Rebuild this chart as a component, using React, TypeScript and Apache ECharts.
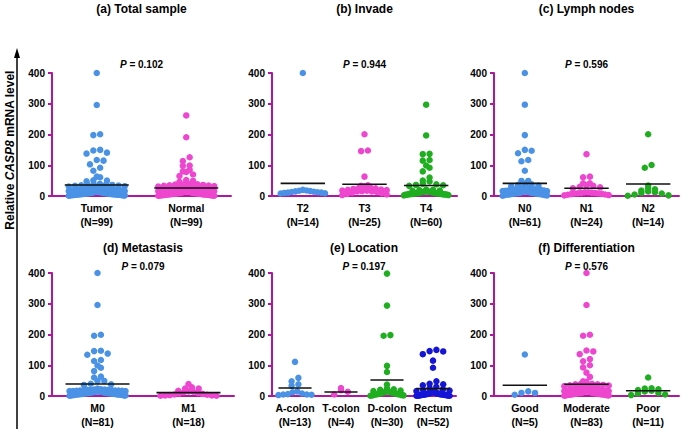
import React, { useEffect, useRef } from 'react';
import * as echarts from 'echarts';

const FONT = "'Liberation Sans', Arial, Helvetica, sans-serif";
const AXIS_COLOR = '#b0179f';
const BLUE = '#4a92e6';
const PINK = '#ee46cf';
const GREEN = '#1fae1f';
const NAVY = '#1515d6';

// ---------- (a) Total sample ----------
const totalCats = ['Tumor', 'Normal'];
const totalNs = [99, 99];
const totalMeans = [36, 26];
const tumorVals = [
  400, 296, 201, 198, 150, 148, 141, 138, 117, 115, 103, 92, 82, 63, 61, 51, 50, 48,
  2, 3, 4, 5, 6, 7, 8, 9, 10, 11, 2, 3, 4, 5, 6, 7, 8, 9, 10, 12,
  1, 2, 3, 4, 5, 6, 7, 8, 9, 13, 3, 4, 5, 6, 8, 10, 12, 14, 16, 18,
  4, 6, 8, 10, 12, 14, 16, 18, 20, 22, 15, 17, 19, 21, 23, 25, 27, 29, 31, 33,
  20, 24, 28, 32, 36, 38, 40, 35, 30, 26, 37, 39, 34, 22, 18, 15, 11, 9, 7, 5, 3,
];
const normalVals = [
  262, 191, 126, 114, 99, 98, 85, 80, 78, 70, 65, 52, 49, 46, 45, 42,
  1, 2, 3, 4, 5, 6, 7, 8, 9, 10, 2, 3, 4, 5, 6, 7, 8, 9, 11, 12,
  1, 2, 3, 4, 5, 6, 7, 8, 10, 13, 3, 5, 7, 9, 11, 13, 15, 17, 19, 21,
  4, 6, 8, 10, 12, 14, 16, 18, 20, 22, 14, 16, 18, 20, 22, 24, 26, 28, 30, 32,
  25, 27, 29, 31, 33, 35, 37, 36, 34, 23, 19, 17, 15, 13, 11, 9, 7, 5, 3, 2,
  38, 40, 30,
];

// ---------- (b) Invade ----------
const invadeCats = ['T2', 'T3', 'T4'];
const invadeNs = [14, 25, 60];
const invadeMeans = [41, 38, 34];
const t2Vals = [400, 15, 12, 10, 8, 18, 20, 16, 14, 9, 11, 17, 13, 11];
const t3Vals = [201, 148, 146, 63, 3, 5, 7, 9, 11, 13, 15, 17, 19, 21, 23, 25, 27, 29, 31, 33, 35, 20, 18, 16, 15];
const t4Vals = [
  297, 197, 137, 136, 117, 115, 99, 92, 80, 60, 50, 47,
  12, 13, 14, 4, 5, 6, 7, 8, 9, 10, 2, 3, 4, 5, 6, 7, 8, 9, 10, 11,
  12, 13, 14, 15, 16, 17, 18, 19, 20, 21, 5, 6, 7, 8, 9, 10, 11, 12, 13, 14,
  35, 38, 40, 33, 36, 4, 6, 8,
];

// ---------- (c) Lymph nodes ----------
const lymphCats = ['N0', 'N1', 'N2'];
const lymphNs = [61, 24, 14];
const lymphMeans = [41, 25, 39];
const n0Vals = [
  400, 297, 198, 150, 147, 139, 117, 113, 82, 49, 49,
  1, 2, 3, 4, 5, 6, 7, 8, 9, 10, 23, 5, 7, 9, 11, 13, 15, 17, 19, 21,
  12, 14, 16, 18, 20, 22, 24, 26, 28, 30, 4, 6, 8, 10, 12, 14, 16, 18, 20, 22,
  32, 34, 36, 38, 40, 5, 3, 7, 9, 11,
];
const n1Vals = [136, 63, 61, 41, 41, 35, 33, 30, 28, 25, 2, 3, 4, 5, 6, 7, 8, 9, 10, 11, 12, 8, 10, 12];
const n2Vals = [201, 101, 92, 34, 25, 22, 18, 15, 12, 10, 8, 5, 2, 1];

// ---------- (d) Metastasis ----------
const metaCats = ['M0', 'M1'];
const metaNs = [81, 18];
const metaMeans = [39, 11];
const m0Vals = [
  400, 296, 199, 196, 147, 146, 138, 134, 117, 114, 99, 92, 81, 63, 60, 49, 49,
  1, 2, 3, 4, 5, 6, 7, 8, 9, 10, 2, 3, 4, 5, 6, 7, 8, 9, 10, 11,
  12, 13, 14, 15, 16, 17, 18, 19, 20, 21, 3, 5, 7, 9, 11, 13, 15, 17, 19, 21,
  12, 14, 16, 18, 20, 22, 24, 36, 38, 40, 2, 4, 6, 8, 10, 12, 14, 16, 18, 20,
  5, 7, 9, 11,
];
const m1Vals = [39, 28, 24, 24, 17, 15, 14, 12, 10, 8, 7, 5, 4, 3, 2, 2, 1, 1];

// ---------- (e) Location ----------
const locCats = ['A-colon', 'T-colon', 'D-colon', 'Rectum'];
const locNs = [13, 4, 30, 52];
const locMeans = [26, 13, 52, 24];
const aColonVals = [111, 59, 48, 38, 33, 15, 5, 12, 8, 6, 5, 4, 3];
const tColonVals = [26, 19, 14, 5];
const dColonVals = [
  398, 294, 196, 198, 98, 78,
  37, 24, 22, 20, 18, 16, 15, 14, 13, 12, 11, 10, 9, 8, 8, 7, 6, 5, 5, 4, 3, 2, 2, 1,
];
const rectumVals = [
  150, 146, 145, 136, 115, 92, 48,
  40, 38, 35, 30, 25, 22, 20, 18, 16, 15, 14, 13, 12, 11, 10, 9, 8, 8, 7, 7,
  6, 6, 5, 5, 5, 4, 4, 4, 3, 3, 3, 2, 2, 2, 1, 1, 1, 2, 3, 4, 5, 6, 7, 8, 9,
];

// ---------- (f) Differentiation ----------
const diffCats = ['Good', 'Moderate', 'Poor'];
const diffNs = [5, 83, 11];
const diffMeans = [35, 38, 17];
const goodVals = [135, 15, 10, 10, 4];
const moderateVals = [
  400, 296, 199, 196, 148, 145, 136, 120, 113, 100, 93, 76, 62, 48, 46,
  1, 2, 3, 4, 5, 6, 7, 8, 9, 10, 2, 3, 4, 5, 6, 7, 8, 9, 10, 11,
  12, 13, 14, 15, 16, 17, 18, 19, 20, 21, 3, 5, 7, 9, 11, 13, 15, 17, 19, 21,
  22, 24, 26, 28, 30, 32, 34, 36, 38, 40, 4, 6, 8, 10, 12, 14, 16, 18, 20, 22,
  25, 27, 30, 35, 38, 40, 5, 9,
];
const poorVals = [60, 25, 24, 22, 19, 17, 15, 10, 8, 5, 3];

const titles = ['(a) Total sample', '(b) Invade', '(c) Lymph nodes', '(d) Metastasis', '(e) Location', '(f) Differentiation'];
const pValues = ['0.102', '0.944', '0.596', '0.079', '0.197', '0.576'];
const yTicks = { min: 0, max: 400, interval: 100 };

type Panel = {
  cats: string[]; ns: number[]; means: number[]; groups: number[][]; colors: string[];
  grid: { left: number; top: number; width: number; height: number };
  titleY: number; pY: number;
};

const panels: Panel[] = [
  { cats: totalCats, ns: totalNs, means: totalMeans, groups: [tumorVals, normalVals], colors: [BLUE, PINK],
    grid: { left: 52, top: 73, width: 179, height: 123 }, titleY: 9, pY: 64 },
  { cats: invadeCats, ns: invadeNs, means: invadeMeans, groups: [t2Vals, t3Vals, t4Vals], colors: [BLUE, PINK, GREEN],
    grid: { left: 272, top: 73, width: 185, height: 123 }, titleY: 9, pY: 64 },
  { cats: lymphCats, ns: lymphNs, means: lymphMeans, groups: [n0Vals, n1Vals, n2Vals], colors: [BLUE, PINK, GREEN],
    grid: { left: 494, top: 73, width: 185, height: 123 }, titleY: 9, pY: 64 },
  { cats: metaCats, ns: metaNs, means: metaMeans, groups: [m0Vals, m1Vals], colors: [BLUE, PINK],
    grid: { left: 52, top: 273, width: 182, height: 123 }, titleY: 248, pY: 266 },
  { cats: locCats, ns: locNs, means: locMeans, groups: [aColonVals, tColonVals, dColonVals, rectumVals], colors: [BLUE, PINK, GREEN, NAVY],
    grid: { left: 272, top: 273, width: 184, height: 123 }, titleY: 248, pY: 266 },
  { cats: diffCats, ns: diffNs, means: diffMeans, groups: [goodVals, moderateVals, poorVals], colors: [BLUE, PINK, GREEN],
    grid: { left: 494, top: 273, width: 185, height: 123 }, titleY: 248, pY: 266 },
];

// Beeswarm-style horizontal spreading of points with similar values
function swarm(values: number[], center: number, bandPx: number, pxPerUnit: number): number[][] {
  const dot = 6.8;
  const clusterPx = 4.5;
  const maxHalf = Math.min(28, bandPx * 0.36);
  const sorted = [...values].sort((a, b) => a - b);
  const clusters: number[][] = [];
  let cur: number[] = [];
  let start = 0;
  for (const v of sorted) {
    if (cur.length && (v - start) * pxPerUnit > clusterPx) {
      clusters.push(cur);
      cur = [];
    }
    if (!cur.length) start = v;
    cur.push(v);
  }
  if (cur.length) clusters.push(cur);
  const out: number[][] = [];
  for (const c of clusters) {
    const k = c.length;
    const sp = k > 1 ? Math.min(dot, (2 * maxHalf) / (k - 1)) : 0;
    c.forEach((v, i) => {
      const idx = i % 2 === 0 ? i / 2 : k - 1 - (i - 1) / 2;
      const offPx = (idx - (k - 1) / 2) * sp;
      out.push([center + offPx / bandPx, v]);
    });
  }
  return out;
}

export default function App() {
  const ref = useRef<HTMLDivElement>(null);
  useEffect(() => {
    if (!ref.current) return;
    const chart = echarts.init(ref.current, undefined, { renderer: 'svg' });
    const grid: any[] = [];
    const xAxis: any[] = [];
    const yAxis: any[] = [];
    const series: any[] = [];
    const graphic: any[] = [];

    panels.forEach((pn, i) => {
      const n = pn.cats.length;
      const bandPx = pn.grid.width / n;
      const ppu = pn.grid.height / (yTicks.max - yTicks.min);
      grid.push({ ...pn.grid, containLabel: false });
      xAxis.push({
        type: 'category', gridIndex: i, boundaryGap: true,
        data: pn.cats.map((c, j) => `${c}\n(N=${pn.ns[j]})`),
        axisLine: { onZero: false, lineStyle: { color: AXIS_COLOR, width: 2 } },
        axisTick: { alignWithLabel: true, length: 4, lineStyle: { color: AXIS_COLOR, width: 2 } },
        axisLabel: { color: '#000', fontWeight: 'bold', fontSize: 10.5, fontFamily: FONT, margin: 5, lineHeight: 14, interval: 0 },
      });
      xAxis.push({ type: 'value', gridIndex: i, min: -0.5, max: n - 0.5, show: false });
      yAxis.push({
        type: 'value', gridIndex: i, min: yTicks.min, max: yTicks.max, interval: yTicks.interval,
        axisLine: { show: true, onZero: false, lineStyle: { color: AXIS_COLOR, width: 2 } },
        axisTick: { show: true, length: 4, lineStyle: { color: AXIS_COLOR, width: 2 } },
        splitLine: { show: false },
        axisLabel: { color: '#000', fontWeight: 'bold', fontSize: 10, fontFamily: FONT, margin: 7 },
      });
      const h = Math.min(32, bandPx * 0.36) / bandPx;
      pn.groups.forEach((vals, j) => {
        series.push({
          type: 'scatter', xAxisIndex: 2 * i + 1, yAxisIndex: i, clip: false, silent: true,
          data: swarm(vals, j, bandPx, ppu), symbolSize: 6.5,
          itemStyle: { color: pn.colors[j], opacity: 1 }, z: 2,
        });
        series.push({
          type: 'line', xAxisIndex: 2 * i + 1, yAxisIndex: i, silent: true,
          data: [[j - h, pn.means[j]], [j + h, pn.means[j]]], symbol: 'none',
          lineStyle: { color: '#111', width: 1.6 }, z: 4,
        });
      });
      const cx = pn.grid.left + pn.grid.width / 2;
      graphic.push({
        type: 'text', x: cx, y: pn.titleY, z: 10,
        style: { text: titles[i], fill: '#000', fontSize: 12, fontWeight: 'bold', fontFamily: FONT, align: 'center', verticalAlign: 'middle' },
      });
      graphic.push({
        type: 'text', x: cx, y: pn.pY, z: 10,
        style: {
          text: `{i|P}{b| = ${pValues[i]}}`, fill: '#000', fontSize: 10, fontWeight: 'bold', fontFamily: FONT,
          align: 'center', verticalAlign: 'middle',
          rich: {
            i: { fontStyle: 'italic', fontWeight: 'bold', fontSize: 10, fontFamily: FONT, fill: '#000' },
            b: { fontWeight: 'bold', fontSize: 10, fontFamily: FONT, fill: '#000' },
          },
        },
      });
    });

    graphic.push({
      type: 'line', shape: { x1: 17, y1: 429, x2: 17, y2: 56 },
      style: { stroke: '#000', lineWidth: 1.5 },
    });
    graphic.push({
      type: 'polygon', shape: { points: [[17, 48], [14, 58], [20, 58]] },
      style: { fill: '#000' },
    });
    graphic.push({
      type: 'text', x: 10, y: 150, rotation: Math.PI / 2,
      style: {
        text: '{n|Relative }{i|CASP8}{n| mRNA level}', fill: '#000', fontSize: 12, fontWeight: 'bold', fontFamily: FONT,
        align: 'center', verticalAlign: 'middle',
        rich: {
          n: { fontWeight: 'bold', fontSize: 12, fontFamily: FONT, fill: '#000' },
          i: { fontStyle: 'italic', fontWeight: 'bold', fontSize: 12, fontFamily: FONT, fill: '#000' },
        },
      },
    });

    chart.setOption({
      animation: false,
      backgroundColor: '#fff',
      grid, xAxis, yAxis, series, graphic,
    });
    return () => chart.dispose();
  }, []);
  return <div ref={ref} style={{ position: 'absolute', left: 0, top: 0, width: 684, height: 429 }} />;
}
